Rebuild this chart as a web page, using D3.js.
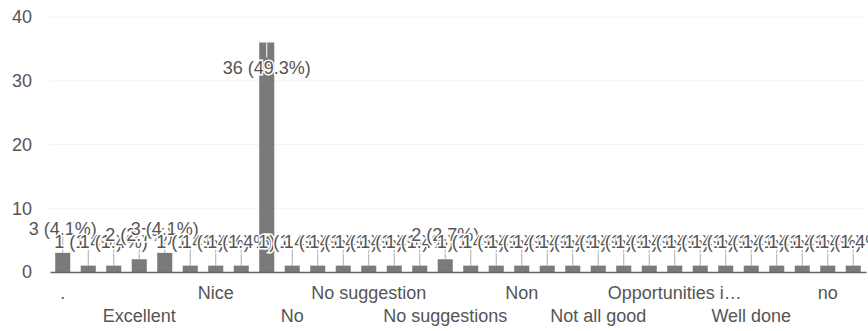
<!DOCTYPE html>
<html>
<head>
<meta charset="utf-8">
<script src="https://cdn.jsdelivr.net/npm/d3@7"></script>
<style>
  body { margin: 0; background: #fff; }
  text { font-family: "Liberation Sans", Arial, sans-serif; }
</style>
</head>
<body>
<div id="chart"></div>
<script>
// answers, sorted as the form lists them
var categories = [".", "All good", "Best", "Excellent", "Good", "Keep it up",
    "Nice", "Nice work", "Nil", "No", "No comments", "No issues",
    "No suggestion", "No suggestion at all", "No suggestion.", "No suggestions",
    "No suggestions.", "No.", "Non", "None", "Nope", "Not all good",
    "Nothing", "Nothing to add", "Opportunities in research", "Satisfactory",
    "Very good", "Well done", "Yes", "good", "no", "nothing"];
var counts = [3, 1, 1, 2, 3, 1, 1, 1, 36, 1, 1, 1, 1, 1, 1, 2,
    1, 1, 1, 1, 1, 1, 1, 1, 1, 1, 1, 1, 1, 1, 1, 1];
var yTicks = [0, 10, 20, 30, 40];

var width = 868, height = 331;
var total = d3.sum(counts);

var svg = d3.select("#chart")
    .append("svg")
    .attr("width", width)
    .attr("height", height);

var x = d3.scaleBand()
    .domain(categories)
    .range([50, 866])
    .paddingInner(0.41)
    .paddingOuter(0.205);

var y = d3.scaleLinear()
    .domain([0, 40])
    .range([272, 17]);

// faint gridlines
svg.append("g")
    .selectAll("line")
    .data(yTicks.slice(1))
    .enter()
    .append("line")
    .attr("x1", 50)
    .attr("x2", 866)
    .attr("y1", function (d) { return y(d); })
    .attr("y2", function (d) { return y(d); })
    .attr("stroke", "#f3f3f3");

// y axis labels
var yAxis = svg.append("g")
    .attr("transform", "translate(36,0)")
    .call(d3.axisLeft(y).tickValues(yTicks).tickSize(0));
yAxis.select(".domain").remove();
yAxis.selectAll("text")
    .attr("x", -4)
    .attr("font-size", 18)
    .attr("fill", "#555");

// bars
var data = categories.map(function (c, i) { return { name: c, value: counts[i], i: i }; });

svg.append("g")
    .selectAll("rect")
    .data(data)
    .enter()
    .append("rect")
    .attr("x", function (d) { return x(d.name); })
    .attr("y", function (d) { return y(d.value); })
    .attr("width", x.bandwidth())
    .attr("height", function (d) { return y(0) - y(d.value); })
    .attr("fill", "#7a7a7a");

// x axis, every third answer shown, staggered over two rows
function shorten(s) {
    return s.length > 16 ? s.slice(0, 15) + "\u2026" : s;
}
var xAxis = svg.append("g")
    .attr("transform", "translate(0," + y(0) + ")")
    .call(d3.axisBottom(x).tickSize(0).tickSizeOuter(0)
        .tickFormat(function (d, i) { return i % 3 === 0 ? shorten(d) : ""; }));
xAxis.select(".domain")
    .attr("stroke", "#666")
    .attr("stroke-width", 1.5);
xAxis.selectAll("text")
    .attr("dy", 0)
    .attr("y", function (d, i) { return i % 6 === 0 ? 27 : 50; })
    .attr("font-size", 18)
    .attr("fill", "#555");

// annotations: "n (p%)" above each bar, tall bars get it inside
var inside = function (d) { return y(d.value) < y(30); };
var label = function (d) {
    return d.value + " (" + (d.value / total * 100).toFixed(1) + "%)";
};

var ann = svg.append("g");
ann.selectAll("line")
    .data(data)
    .enter()
    .append("line")
    .attr("x1", function (d) { return x(d.name) + x.bandwidth() / 2; })
    .attr("x2", function (d) { return x(d.name) + x.bandwidth() / 2; })
    .attr("y1", function (d) { return y(d.value); })
    .attr("y2", function (d) { return inside(d) ? y(d.value) + 15 : y(d.value) - 17; })
    .attr("stroke", function (d) { return inside(d) ? "#fff" : "#aaa"; })
    .attr("stroke-width", 1);

ann.selectAll("text")
    .data(data)
    .enter()
    .append("text")
    .attr("x", function (d) { return x(d.name) + x.bandwidth() / 2; })
    .attr("y", function (d) { return inside(d) ? y(d.value) + 31 : y(d.value) - 18; })
    .attr("text-anchor", "middle")
    .attr("font-size", 18)
    .attr("fill", "#555")
    .attr("stroke", "#fff")
    .attr("stroke-width", 3)
    .attr("paint-order", "stroke")
    .text(label);
</script>
</body>
</html>
